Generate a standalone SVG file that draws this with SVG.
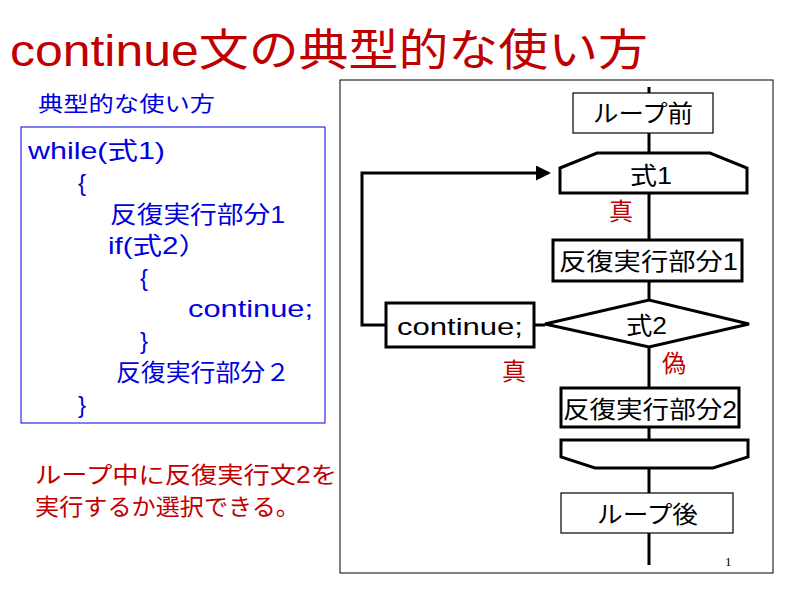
<svg xmlns="http://www.w3.org/2000/svg" width="800" height="600" viewBox="0 0 800 600">
<style>
text{font-family:"Liberation Sans","Noto Sans CJK JP",sans-serif}
.b{fill:#fff;stroke:#000;stroke-width:3}
.t{fill:#fff;stroke:#000;stroke-width:1.2}
.l{fill:none;stroke:#000;stroke-width:3}
.c{fill:#0000e0;font-size:24px}
.r{fill:#c00000}
.n{font-size:24px;fill:#000}
</style>
<defs><marker id="a" markerWidth="5" markerHeight="5" refX="4" refY="2.5" orient="auto" markerUnits="strokeWidth"><path d="M0,0L5,2.5L0,5z" fill="#000"/></marker></defs>
<rect width="800" height="600" fill="#fff"/>
<text x="10" y="66" font-size="44" class="r" textLength="638" lengthAdjust="spacingAndGlyphs">continue文の典型的な使い方</text>
<text x="38" y="111" font-size="21" fill="#0000e0" textLength="177" lengthAdjust="spacingAndGlyphs">典型的な使い方</text>
<rect x="21" y="127" width="304" height="296" fill="none" stroke="#0000e0" stroke-width="1"/>
<text class="c" x="28" y="159" textLength="137" lengthAdjust="spacingAndGlyphs">while(式1)</text>
<text class="c" x="78" y="191">{</text>
<text class="c" x="110" y="223" textLength="175" lengthAdjust="spacingAndGlyphs">反復実行部分1</text>
<text class="c" x="108" y="254" textLength="100" lengthAdjust="spacingAndGlyphs">if(式2）</text>
<text class="c" x="140" y="286">{</text>
<text class="c" x="188" y="317" textLength="125" lengthAdjust="spacingAndGlyphs">continue;</text>
<text class="c" x="140" y="349">}</text>
<text class="c" x="116" y="381" textLength="174" lengthAdjust="spacingAndGlyphs">反復実行部分２</text>
<text class="c" x="78" y="413">}</text>
<text class="r" font-size="23" x="35" y="483" textLength="302" lengthAdjust="spacingAndGlyphs">ループ中に反復実行文2を</text>
<text class="r" font-size="23" x="35" y="515" textLength="265" lengthAdjust="spacingAndGlyphs">実行するか選択できる。</text>
<rect x="340" y="80" width="433" height="493" fill="none" stroke="#000" stroke-width="1"/>
<g id="connectors">
<line class="l" x1="649" y1="87" x2="649" y2="565"/>
<polyline class="l" points="386,325 362,325 362,173 548,173" marker-end="url(#a)"/>
<line class="l" x1="534" y1="325" x2="545" y2="325"/>
</g>
<g id="before"><rect class="t" x="573" y="93" width="140" height="40"/><text class="n" x="593" y="122" textLength="100" lengthAdjust="spacingAndGlyphs">ループ前</text></g>
<g id="cond1"><path class="b" d="M560,168L597,153H710L747,168V193H560Z"/><text class="n" x="630" y="184" textLength="42" lengthAdjust="spacingAndGlyphs">式1</text></g>
<g id="body1"><rect class="b" x="553" y="240" width="189" height="41"/><text class="n" x="559" y="270" textLength="179" lengthAdjust="spacingAndGlyphs">反復実行部分1</text></g>
<g id="cond2"><path class="b" d="M545,324L649,300L749,324L649,347Z"/><text class="n" x="626" y="334" textLength="41" lengthAdjust="spacingAndGlyphs">式2</text></g>
<g id="cont"><rect class="b" x="386" y="303" width="148" height="44"/><text class="n" x="397" y="335" textLength="126" lengthAdjust="spacingAndGlyphs">continue;</text></g>
<g id="body2"><rect class="b" x="561" y="388" width="178" height="39"/><text class="n" x="563" y="418" textLength="174" lengthAdjust="spacingAndGlyphs">反復実行部分2</text></g>
<g id="loopend"><path class="b" d="M561,440H748V457L713,468H595L561,457Z"/></g>
<g id="after"><rect class="t" x="561" y="493" width="172" height="40"/><text class="n" x="597" y="523" textLength="101" lengthAdjust="spacingAndGlyphs">ループ後</text></g>
<text class="r" font-size="24" x="609" y="220">真</text>
<text class="r" font-size="24" x="502" y="380">真</text>
<text class="r" font-size="24" x="662" y="372">偽</text>
<text x="725" y="566" font-size="13" style="font-family:'Liberation Serif',serif">1</text>
</svg>
